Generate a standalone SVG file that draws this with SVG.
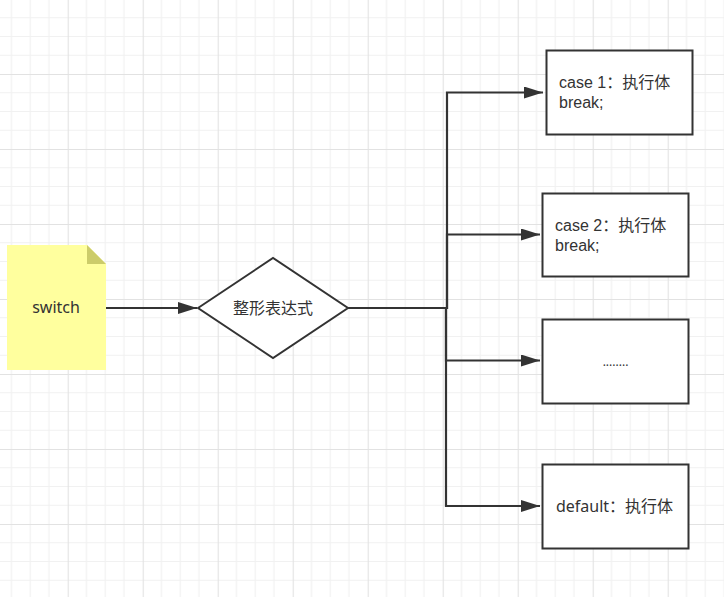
<svg xmlns="http://www.w3.org/2000/svg" width="724" height="597" viewBox="0 0 724 597">
<style>
.t{font-family:"Noto Sans","Noto Sans CJK SC",sans-serif;font-size:16px;fill:#333}
.b{font-family:"Liberation Sans","Noto Sans CJK SC",sans-serif;font-size:16px;fill:#333}
.box{fill:#fff;stroke:#333;stroke-width:2}
.con{fill:none;stroke:#333;stroke-width:2.2}
</style>
<defs>
<pattern id="grid" patternUnits="userSpaceOnUse" x="-7.3" y="-1" width="75" height="75">
<path d="M18.75 0V75M37.5 0V75M56.25 0V75M0 18.75H75M0 37.5H75M0 56.25H75" stroke="#f1f1f1" stroke-width="1.2" fill="none"/>
<path d="M0.5 0V75M0 0.5H75" stroke="#e2e2e2" stroke-width="1.2" fill="none"/>
</pattern>
<marker id="arr" markerUnits="userSpaceOnUse" viewBox="0 0 19 12" refX="19" refY="6" markerWidth="19" markerHeight="12" orient="auto">
<path d="M0 0L19 6L0 12Z" fill="#333"/>
</marker>
</defs>
<rect width="724" height="597" fill="#fff"/>
<rect width="724" height="597" fill="url(#grid)"/>
<g id="connectors">
<path class="con" d="M106 308H197" marker-end="url(#arr)"/>
<path class="con" d="M348 308H447V92.5H543" marker-end="url(#arr)"/>
<path class="con" d="M348 308H447V234.5H540" marker-end="url(#arr)"/>
<path class="con" d="M348 308H446V360.5H540" marker-end="url(#arr)"/>
<path class="con" d="M348 308H446V506H540" marker-end="url(#arr)"/>
</g>
<g id="switch">
<path d="M7 245H87L106 264V370H7Z" fill="#ffff9e"/>
<path d="M87 245L106 264H87Z" fill="#cccc6a"/>
<text class="t" x="56" y="313" text-anchor="middle">switch</text>
</g>
<g id="expr">
<path d="M198 308L273 258L348 308L273 358Z" class="box"/>
<text class="t" x="273" y="314" text-anchor="middle">整形表达式</text>
</g>
<g id="case1">
<rect class="box" x="546.5" y="50.5" width="146" height="84"/>
<text class="b" x="559" y="87.5">case 1：执行体</text>
<text class="b" x="559" y="107.5">break;</text>
</g>
<g id="case2">
<rect class="box" x="542.5" y="193.5" width="146" height="83"/>
<text class="b" x="555" y="231">case 2：执行体</text>
<text class="b" x="555" y="251">break;</text>
</g>
<g id="more">
<rect class="box" x="542.5" y="319.5" width="146" height="84"/>
<text class="t" x="615.5" y="366" text-anchor="middle" style="font-size:12px">........</text>
</g>
<g id="default">
<rect class="box" x="542.5" y="464.5" width="146" height="84"/>
<text class="t" x="614.5" y="512" text-anchor="middle">default：执行体</text>
</g>
</svg>
